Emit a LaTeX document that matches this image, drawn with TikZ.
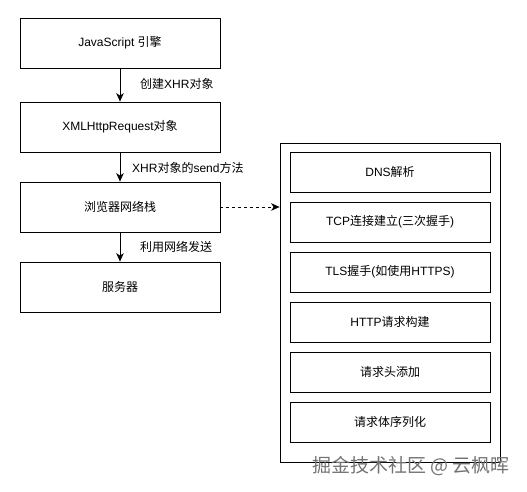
\documentclass[tikz,border=0pt]{standalone}
\usepackage{fontspec}
\setmainfont{Liberation Sans}
\newfontfamily\cjk{Noto Sans CJK SC}
\usetikzlibrary{positioning,arrows.meta}

\begin{document}
\begin{tikzpicture}[x=1pt, y=-1pt,
  box/.style={rectangle, draw=black, thick, fill=white, minimum width=200pt,
              minimum height=50pt, font=\fontsize{12}{14}\selectfont, align=center},
  sub/.style={box, minimum height=40pt},
  lbl/.style={anchor=west, font=\fontsize{12}{14}\selectfont, inner sep=0pt},
  ar/.style={-{Stealth[length=8.5pt, width=7.5pt, inset=2.5pt]}, thick, #1},
]
\useasboundingbox (0,0) rectangle (527,491);

\node[box] (js)   at (120, 43)  {JavaScript {\cjk 引擎}};
\node[box] (xhr)  at (120, 127) {XMLHttpRequest{\cjk 对象}};
\node[box] (net)  at (120, 207) {{\cjk 浏览器网络栈}};
\node[box] (srv)  at (120, 287) {{\cjk 服务器}};

\draw[ar=black] (js.south) -- (xhr.north);
\draw[ar=black] (xhr.south) -- (net.north);
\draw[ar=black] (net.south) -- (srv.north);

\node[lbl] (l1) at (140, 84)  {{\cjk 创建}XHR{\cjk 对象}};
\node[lbl] (l2) at (132, 168) {XHR{\cjk 对象的}send{\cjk 方法}};
\node[lbl] (l3) at (140, 247) {{\cjk 利用网络发送}};

\node[box, minimum width=220pt, minimum height=319pt] (stack) at (390, 302.5) {};

\node[sub] (dns)  at (390, 172) {DNS{\cjk 解析}};
\node[sub] (tcp)  at (390, 222) {TCP{\cjk 连接建立}({\cjk 三次握手})};
\node[sub] (tls)  at (390, 272) {TLS{\cjk 握手}({\cjk 如使用}HTTPS)};
\node[sub] (http) at (390, 322) {HTTP{\cjk 请求构建}};
\node[sub] (hdr)  at (390, 372) {{\cjk 请求头添加}};
\node[sub] (body) at (390, 422) {{\cjk 请求体序列化}};

\draw[ar=black, dashed, semithick] (net.east) -- (stack.west|-net.east);

% watermark
\node[font=\cjk\fontsize{19}{21}\selectfont, text=black!55, inner sep=0pt] (wm) at (411, 466)
  {掘金技术社区 @ 云枫晖};

\end{tikzpicture}
\end{document}
